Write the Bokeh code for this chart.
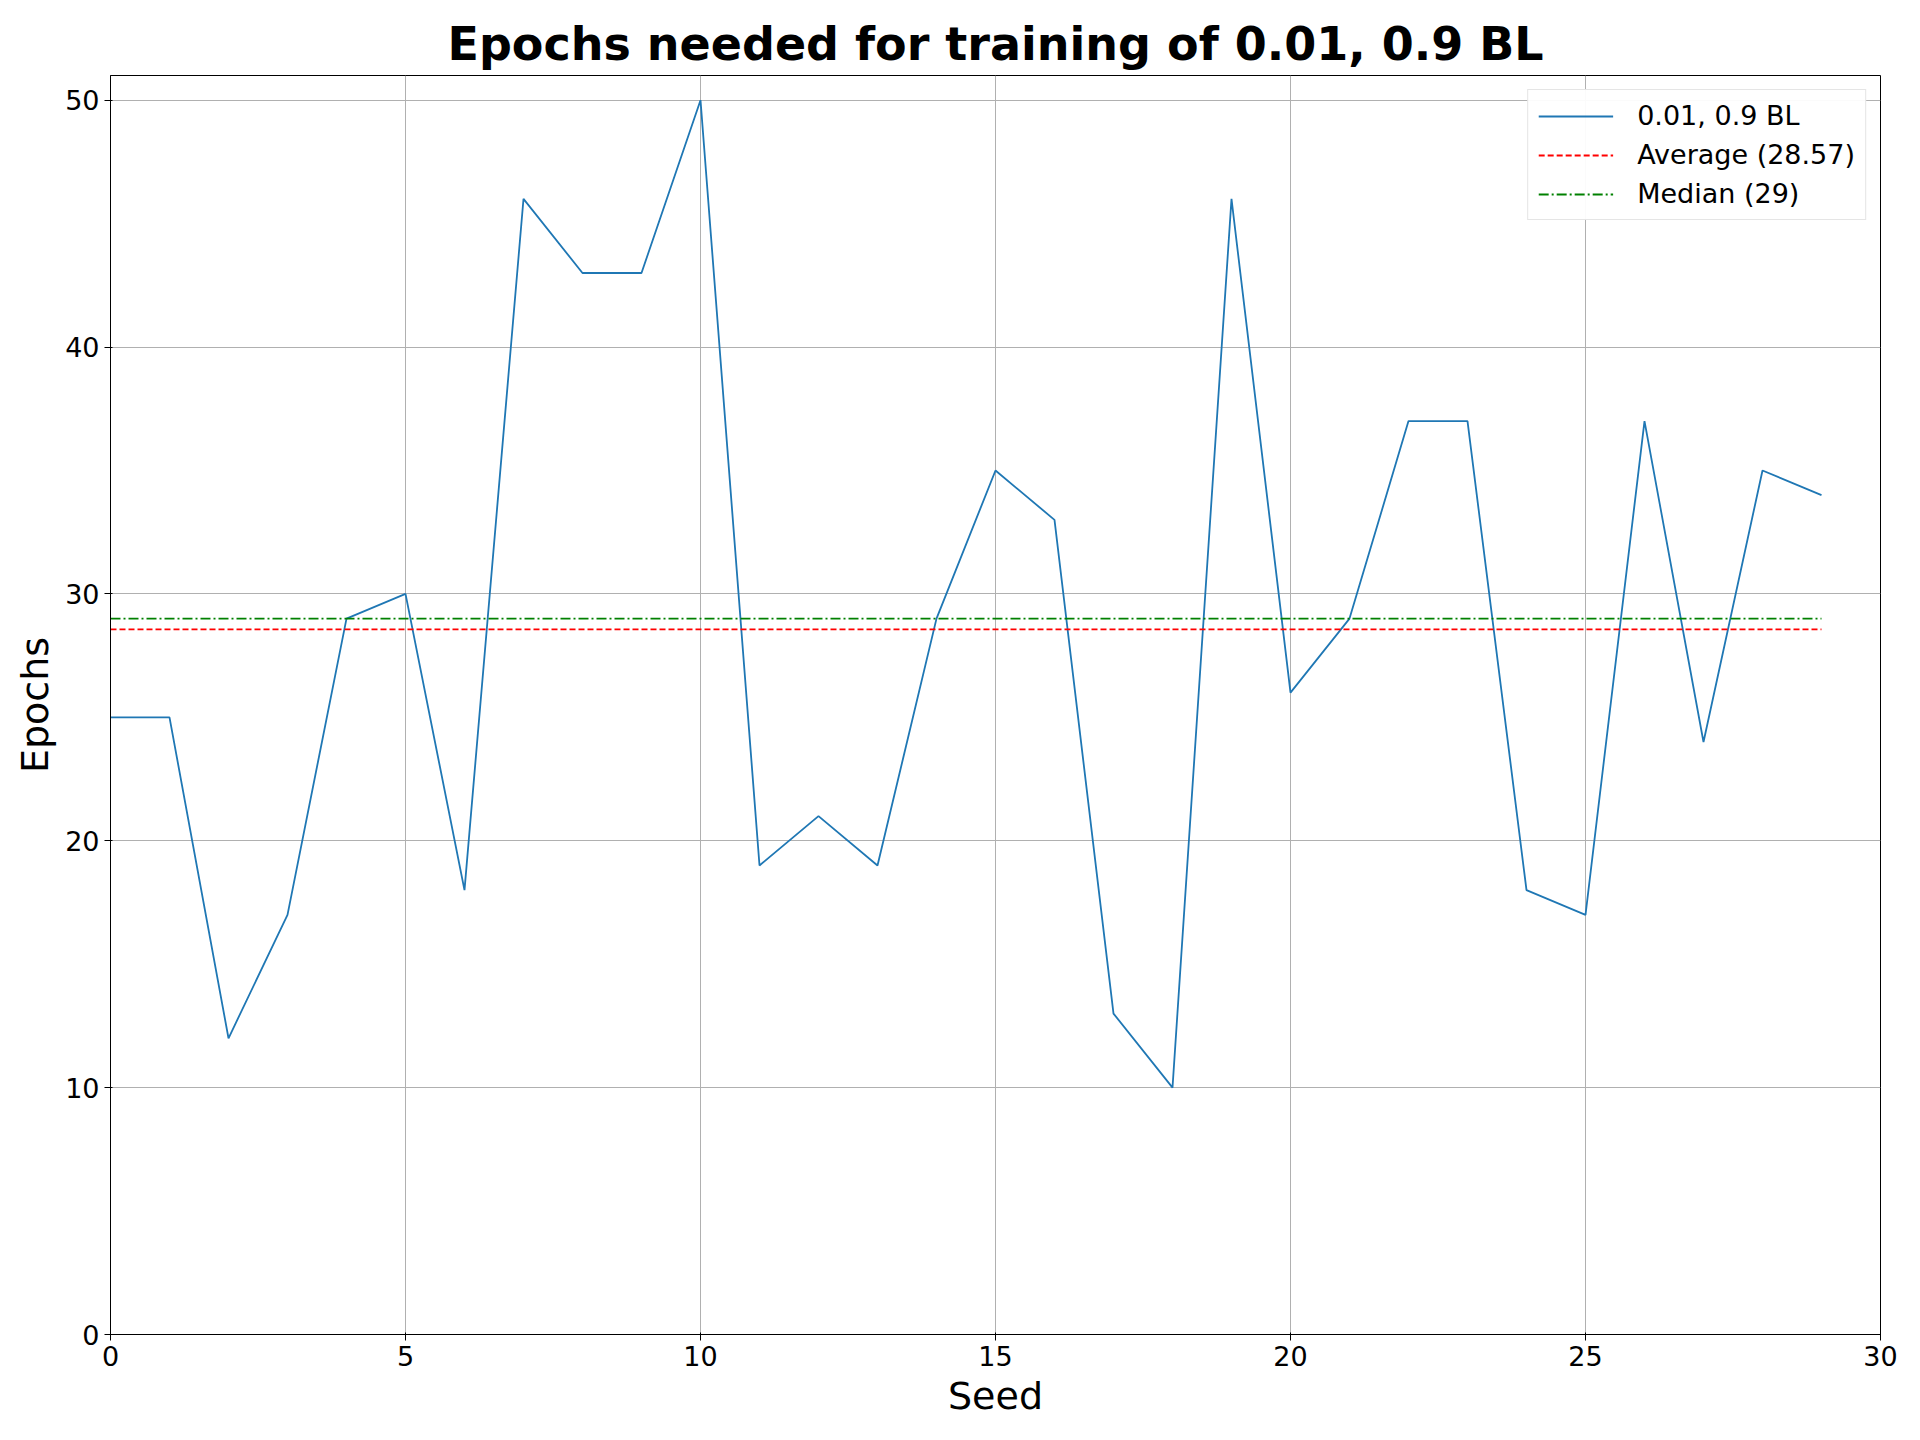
from bokeh.embed import file_html
from bokeh.resources import INLINE
from bokeh.models import Range1d, Legend, LegendItem
from bokeh.plotting import figure

seeds = list(range(30))
epochs = [25, 25, 12, 17, 29, 30, 18, 46, 43, 43, 50, 19, 21, 19, 29,
          35, 33, 13, 10, 46, 26, 29, 37, 37, 18, 17, 37, 24, 35, 34]
average = sum(epochs) / len(epochs)
median = sorted(epochs)[len(epochs) // 2 - 1:len(epochs) // 2 + 1]
median = sum(median) / 2

p = figure(
    width=1900, height=1420,
    title="Epochs needed for training of 0.01, 0.9 BL",
    x_axis_label="Seed", y_axis_label="Epochs",
    x_range=Range1d(0, 30), y_range=Range1d(0, 51),
    output_backend="svg", toolbar_location=None,
    min_border_left=110, min_border_right=20, min_border_top=75, min_border_bottom=80,
)
p.title.align = "center"
p.title.text_font = "DejaVu Sans"
p.title.text_font_size = "46px"
p.title.text_font_style = "bold"
p.title.text_color = "black"
for ax in (p.xaxis, p.yaxis):
    ax.axis_label_text_font = "DejaVu Sans"
    ax.axis_label_text_font_size = "38px"
    ax.axis_label_text_font_style = "normal"
    ax.axis_label_text_color = "black"
    ax.major_label_text_font = "DejaVu Sans"
    ax.major_label_text_font_size = "27px"
    ax.major_label_text_color = "black"
    ax.minor_tick_line_color = None
    ax.axis_line_color = "black"
p.xaxis.ticker = [0, 5, 10, 15, 20, 25, 30]
p.yaxis.ticker = [0, 10, 20, 30, 40, 50]
p.grid.grid_line_color = "#b0b0b0"
p.grid.grid_line_alpha = 1.0
p.outline_line_color = "black"

r1 = p.line(seeds, epochs, line_color="#1f77b4", line_width=1.8)
r2 = p.line([seeds[0], seeds[-1]], [average, average], line_color="red",
            line_width=1.8, line_dash="6 3")
r3 = p.line([seeds[0], seeds[-1]], [median, median], line_color="green",
            line_width=1.8, line_dash="10 3 2 3")

legend = Legend(items=[
    LegendItem(label="0.01, 0.9 BL", renderers=[r1]),
    LegendItem(label=f"Average ({average:.2f})", renderers=[r2]),
    LegendItem(label=f"Median ({median:.0f})", renderers=[r3]),
], location="top_right")
legend.label_text_font = "DejaVu Sans"
legend.label_text_font_size = "27px"
legend.label_text_color = "black"
legend.label_standoff = 24
legend.spacing = 8
legend.glyph_width = 75
legend.border_line_color = "#cccccc"
legend.margin = 14
p.add_layout(legend)

open("out.html", "w").write(file_html(p, INLINE))
